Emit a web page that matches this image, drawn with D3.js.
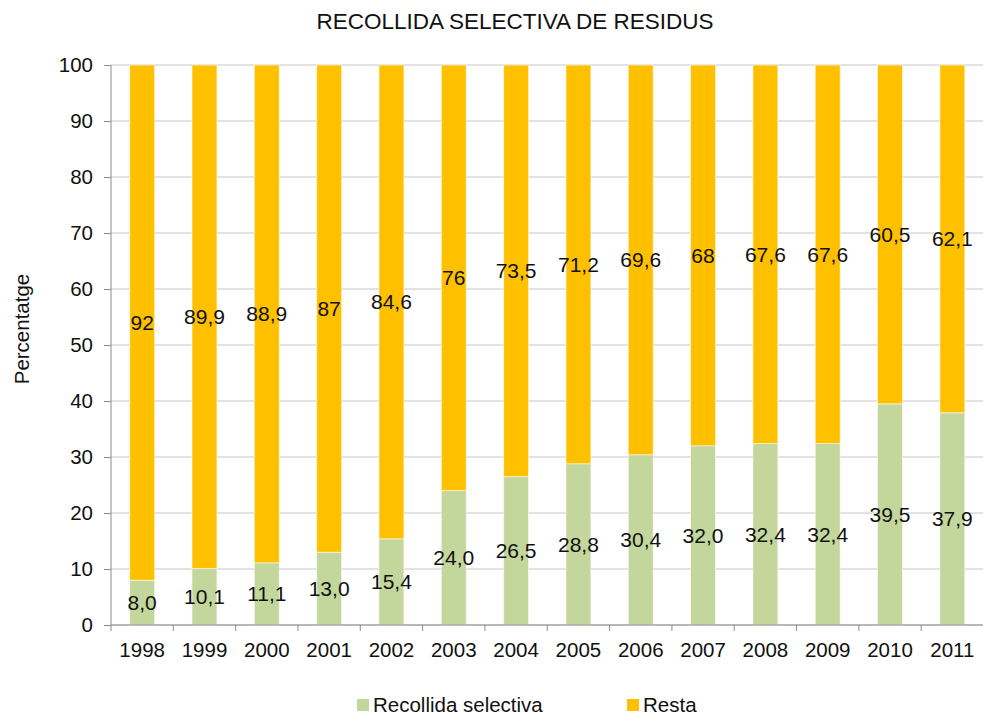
<!DOCTYPE html>
<html>
<head>
<meta charset="utf-8">
<script src="https://cdn.jsdelivr.net/npm/d3@7"></script>
<style>
  body { margin: 0; background: #fff; }
  text { font-family: "Liberation Sans", Arial, sans-serif; fill: #111; }
</style>
</head>
<body>
<svg id="chart"></svg>
<script>
/* dades llegides del gràfic */
var anys = ["1998", "1999", "2000", "2001", "2002", "2003", "2004", "2005", "2006", "2007", "2008", "2009", "2010", "2011"];
var selectiva = [8.0, 10.1, 11.1, 13.0, 15.4, 24.0, 26.5, 28.8, 30.4, 32.0, 32.4, 32.4, 39.5, 37.9];
var resta = [92, 89.9, 88.9, 87, 84.6, 76, 73.5, 71.2, 69.6, 68, 67.6, 67.6, 60.5, 62.1];
var selectivaLabels = ["8,0", "10,1", "11,1", "13,0", "15,4", "24,0", "26,5", "28,8", "30,4", "32,0", "32,4", "32,4", "39,5", "37,9"];
var restaLabels = ["92", "89,9", "88,9", "87", "84,6", "76", "73,5", "71,2", "69,6", "68", "67,6", "67,6", "60,5", "62,1"];
var yTicks = [0, 10, 20, 30, 40, 50, 60, 70, 80, 90, 100];
var series = ["Recollida selectiva", "Resta"];

var width = 983, height = 715;
var plotLeft = 111, plotRight = 983.5, plotTop = 65, plotBottom = 625;

var color = d3.scaleOrdinal(series, ["#c3d69b", "#ffc000"]);

var svg = d3.select("#chart")
	.attr("width", width)
	.attr("height", height);

var x = d3.scaleBand()
	.domain(anys)
	.range([plotLeft, plotRight])
	.paddingInner(0.6)
	.paddingOuter(0.3);

var y = d3.scaleLinear()
	.domain([0, 100])
	.range([plotBottom, plotTop]);

/* graella */
svg.append("g")
	.selectAll("line")
	.data(yTicks)
	.enter()
	.append("line")
	.attr("x1", plotLeft)
	.attr("x2", width)
	.attr("y1", function(d) { return y(d); })
	.attr("y2", function(d) { return y(d); })
	.attr("stroke", "#c6c6c6")
	.attr("stroke-width", 1);

/* dades apilades */
var rows = anys.map(function(a, i) {
	return { any: a, "Recollida selectiva": selectiva[i], "Resta": resta[i], i: i };
});
var stack = d3.stack().keys(series)(rows);

var layer = svg.append("g")
	.selectAll("g")
	.data(stack)
	.enter()
	.append("g")
	.attr("fill", function(d) { return color(d.key); });

layer.selectAll("rect")
	.data(function(d) { return d; })
	.enter()
	.append("rect")
	.attr("x", function(d) { return x(d.data.any); })
	.attr("width", x.bandwidth())
	.attr("y", function(d) { return y(d[1]); })
	.attr("height", function(d) { return y(d[0]) - y(d[1]); })
	.attr("stroke", "rgba(255,255,255,0.55)")
	.attr("stroke-width", 1);

/* etiquetes de valors */
layer.selectAll("text")
	.data(function(d) { return d.map(function(p) { p.key = d.key; return p; }); })
	.enter()
	.append("text")
	.attr("x", function(d) { return x(d.data.any) + x.bandwidth() / 2; })
	.attr("y", function(d) { return y((d[0] + d[1]) / 2); })
	.attr("dy", "0.35em")
	.attr("text-anchor", "middle")
	.style("font-size", "21px")
	.text(function(d) {
		return d.key === "Resta" ? restaLabels[d.data.i] : selectivaLabels[d.data.i];
	});

/* eixos */
var yAxis = svg.append("g")
	.attr("transform", "translate(" + plotLeft + ",0)")
	.call(d3.axisLeft(y).tickValues(yTicks).tickSize(7).tickPadding(11));

var xAxis = svg.append("g")
	.attr("transform", "translate(0," + plotBottom + ")")
	.call(d3.axisBottom(x).tickSize(0).tickPadding(17));

/* marques entre categories */
xAxis.selectAll(".sep")
	.data(d3.range(anys.length + 1))
	.enter()
	.append("line")
	.attr("class", "sep")
	.attr("x1", function(d) { return plotLeft + d * x.step(); })
	.attr("x2", function(d) { return plotLeft + d * x.step(); })
	.attr("y1", 0)
	.attr("y2", 6)
	.attr("stroke", "#8c8c8c");

[yAxis, xAxis].forEach(function(ax) {
	ax.select(".domain").attr("stroke", "#8c8c8c");
	ax.selectAll(".tick line").attr("stroke", "#8c8c8c");
	ax.selectAll("text")
		.style("font-size", "20.5px")
		.style("font-family", "'Liberation Sans', Arial, sans-serif")
		.attr("fill", "#111");
});
yAxis.select(".domain").attr("d", "M0," + plotBottom + "V" + plotTop);
xAxis.select(".domain").attr("d", "M" + plotLeft + ",0H" + width);

/* títol */
svg.append("text")
	.attr("x", 515)
	.attr("y", 29)
	.attr("text-anchor", "middle")
	.style("font-size", "22.5px")
	.text("RECOLLIDA SELECTIVA DE RESIDUS");

/* títol eix Y */
svg.append("text")
	.attr("transform", "translate(29,329) rotate(-90)")
	.attr("text-anchor", "middle")
	.style("font-size", "20.5px")
	.text("Percentatge");

/* llegenda */
var legendX = [357, 627];
var legend = svg.append("g")
	.selectAll("g")
	.data(series)
	.enter()
	.append("g")
	.attr("transform", function(d, i) { return "translate(" + legendX[i] + ",699)"; });

legend.append("rect")
	.attr("width", 12)
	.attr("height", 12)
	.attr("fill", function(d) { return color(d); });

legend.append("text")
	.attr("x", 16)
	.attr("y", 13)
	.style("font-size", "20.5px")
	.text(function(d) { return d; });
</script>
</body>
</html>
